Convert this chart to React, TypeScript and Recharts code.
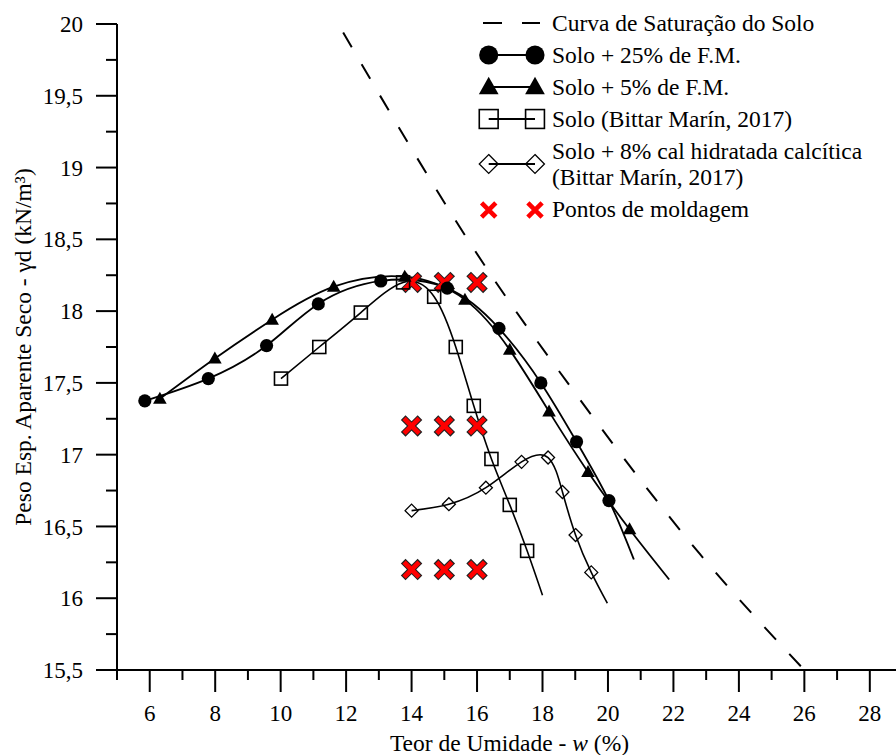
import React from 'react';
import { ComposedChart, Line, Scatter, XAxis, YAxis, Legend, Label } from 'recharts';

const FONT = '"Liberation Serif", "Times New Roman", serif';

// curva de saturação (tracejada)
const satW = [11.91, 16.49, 18.93, 22.8, 26];
const satGd = [19.94, 18.23, 17.45, 16.31, 15.5];

// Solo + 25% de F.M.
const fm25W = [5.85, 7.79, 9.57, 11.15, 13.06, 15.09, 16.67, 17.95, 19.04, 20.03];
const fm25Gd = [17.375, 17.53, 17.76, 18.05, 18.21, 18.16, 17.88, 17.5, 17.09, 16.68];
const fm25End = [20.79, 16.27];

// Solo + 5% de F.M.
const fm5W = [6.31, 7.99, 9.74, 11.62, 13.79, 15.63, 17.0, 18.2, 19.39, 20.66];
const fm5Gd = [17.39, 17.67, 17.94, 18.17, 18.24, 18.08, 17.73, 17.3, 16.88, 16.48];
const fm5End = [21.87, 16.13];

// Solo (Bittar Marín, 2017)
const soloW = [10.01, 11.18, 12.45, 13.74, 14.69, 15.35, 15.9, 16.44, 17.0, 17.53];
const soloGd = [17.53, 17.75, 17.99, 18.2, 18.1, 17.75, 17.34, 16.97, 16.65, 16.33];
const soloEnd = [18.0, 16.02];

// Solo + 8% cal hidratada calcítica
const calW = [14.0, 15.14, 16.27, 17.36, 18.17, 18.61, 19.01, 19.49];
const calGd = [16.61, 16.655, 16.77, 16.95, 16.98, 16.74, 16.44, 16.18];
const calEnd = [19.98, 15.965];

// pontos de moldagem
const moldW = [14, 15, 16, 14, 15, 16, 14, 15, 16];
const moldGd = [18.2, 18.2, 18.2, 17.2, 17.2, 17.2, 16.2, 16.2, 16.2];

const xTicks = Array.from({ length: 24 }, (_, i) => 5 + i);
const yTicks = Array.from({ length: 19 }, (_, i) => 15.5 + i * 0.25);

const rows = (w: number[], gd: number[], end?: number[]) => {
  const r = w.map((x, i) => ({ x, y: gd[i], mark: true }));
  if (end) r.push({ x: end[0], y: end[1], mark: false });
  return r;
};

const satData = rows(satW, satGd);
const fm25Data = rows(fm25W, fm25Gd, fm25End);
const fm5Data = rows(fm5W, fm5Gd, fm5End);
const soloData = rows(soloW, soloGd, soloEnd);
const calData = rows(calW, calGd, calEnd);
const moldData = moldW.map((x, i) => ({ x, y: moldGd[i] }));

const fmt = (v: number) => String(v).replace('.', ',');

function Marker({ kind, cx, cy, s = 1 }: { kind: string; cx: number; cy: number; s?: number }) {
  if (kind === 'circle') return <circle cx={cx} cy={cy} r={6.6 * s} fill="#000" />;
  if (kind === 'triangle')
    return <polygon points={`${cx},${cy - 7 * s} ${cx + 6.8 * s},${cy + 5 * s} ${cx - 6.8 * s},${cy + 5 * s}`} fill="#000" />;
  if (kind === 'square')
    return <rect x={cx - 6.5 * s} y={cy - 6.5 * s} width={13 * s} height={13 * s} fill="none" stroke="#000" strokeWidth={1.6} />;
  if (kind === 'diamond')
    return (
      <polygon
        points={`${cx},${cy - 6.5 * s} ${cx + 6.5 * s},${cy} ${cx},${cy + 6.5 * s} ${cx - 6.5 * s},${cy}`}
        fill="none"
        stroke="#000"
        strokeWidth={1.3}
      />
    );
  return null;
}

function XMark({ cx, cy, outline = true, s = 1 }: { cx: number; cy: number; outline?: boolean; s?: number }) {
  const a = 7.5 * s;
  const b = 8.4 * s;
  const d = (h: number) => `M${cx - h},${cy - h}L${cx + h},${cy + h}M${cx + h},${cy - h}L${cx - h},${cy + h}`;
  return (
    <g>
      {outline && <path d={d(b)} stroke="#222" strokeWidth={6.6} fill="none" />}
      <path d={d(a)} stroke="#f00" strokeWidth={4.6} fill="none" />
    </g>
  );
}

const dotFor = (kind: string) => (p: any) => {
  const { cx, cy, payload, index } = p;
  if (!payload || !payload.mark) return <g key={`d${index}`} />;
  return <Marker key={`d${index}`} kind={kind} cx={cx} cy={cy} />;
};

const X_SIZE = 22;
const X_MARGIN = 13;
const Y_SIZE = 21;
const Y_MARGIN = 13;

function XTick(props: any) {
  const { x, y, payload } = props;
  const v = payload.value;
  const major = v % 2 === 0;
  const axisY = y - X_SIZE - X_MARGIN;
  return (
    <g>
      <line x1={x} x2={x} y1={axisY} y2={axisY + (major ? 22 : 10)} stroke="#000" strokeWidth={2} />
      {major && (
        <text x={x} y={y} dy="0.71em" textAnchor="middle" fontFamily={FONT} fontSize={23} fill="#000">
          {v}
        </text>
      )}
    </g>
  );
}

function YTick(props: any) {
  const { x, y, payload } = props;
  const v = payload.value;
  const major = Math.abs(v * 2 - Math.round(v * 2)) < 1e-6;
  const axisX = x + Y_SIZE + Y_MARGIN;
  return (
    <g>
      <line x1={axisX - (major ? 21 : 11)} x2={axisX} y1={y} y2={y} stroke="#000" strokeWidth={2} />
      {major && (
        <text x={x} y={y} dy="0.355em" textAnchor="end" fontFamily={FONT} fontSize={23} fill="#000">
          {fmt(v)}
        </text>
      )}
    </g>
  );
}

const legendItems = [
  { kind: 'dash', text: ['Curva de Saturação do Solo'] },
  { kind: 'circle', text: ['Solo + 25% de F.M.'] },
  { kind: 'triangle', text: ['Solo + 5% de F.M.'] },
  { kind: 'square', text: ['Solo (Bittar Marín, 2017)'] },
  { kind: 'diamond', text: ['Solo + 8% cal hidratada calcítica', '(Bittar Marín, 2017)'] },
  { kind: 'x', text: ['Pontos de moldagem'] },
];

function LegendSymbol({ kind }: { kind: string }) {
  const h = 32;
  const c = h / 2;
  const l = 10.7;
  const r = 57;
  let body: React.ReactNode;
  if (kind === 'dash') {
    body = (
      <g stroke="#000" strokeWidth={2}>
        <line x1={5} x2={24} y1={c} y2={c} />
        <line x1={44} x2={62} y1={c} y2={c} />
      </g>
    );
  } else if (kind === 'x') {
    body = (
      <g>
        <XMark cx={l} cy={c} outline={false} s={0.95} />
        <XMark cx={r} cy={c} outline={false} s={0.95} />
      </g>
    );
  } else {
    body = (
      <g>
        <line x1={l} x2={r} y1={c} y2={c} stroke="#000" strokeWidth={1.8} />
        <Marker kind={kind} cx={l} cy={c} s={1.45} />
        <Marker kind={kind} cx={r} cy={c} s={1.45} />
      </g>
    );
  }
  return (
    <svg width={66} height={h} style={{ flex: 'none', overflow: 'visible' }}>
      {body}
    </svg>
  );
}

function renderLegend() {
  return (
    <div style={{ fontFamily: FONT, fontSize: 23.5, color: '#000' }}>
      {legendItems.map((it) => (
        <div key={it.kind} style={{ display: 'flex', alignItems: 'center', height: it.text.length > 1 ? 58.7 : 32 }}>
          <LegendSymbol kind={it.kind} />
          <div style={{ marginLeft: 8, lineHeight: '26.7px', whiteSpace: 'nowrap' }}>
            {it.text.map((t) => (
              <div key={t}>{t}</div>
            ))}
          </div>
        </div>
      ))}
    </div>
  );
}

export default function App() {
  return (
    <div style={{ position: 'absolute', left: 0, top: 0, width: 896, height: 755, background: '#fff' }}>
      <ComposedChart width={896} height={755} margin={{ top: 24, right: 0, bottom: 0, left: 0 }}>
        <XAxis
          type="number"
          dataKey="x"
          domain={[5, 28.8]}
          allowDataOverflow
          ticks={xTicks}
          interval={0}
          height={85}
          tickSize={X_SIZE}
          tickMargin={X_MARGIN}
          tickLine={false}
          axisLine={{ stroke: '#000', strokeWidth: 2 }}
          tick={<XTick />}
        >
          <Label
            content={(p: any) => {
              const vb = p.viewBox || { x: 117, width: 779 };
              return (
                <text x={vb.x + vb.width / 2 + 3} y={751} textAnchor="middle" fontFamily={FONT} fontSize={23.5} fill="#000">
                  Teor de Umidade - <tspan fontStyle="italic">w</tspan> (%)
                </text>
              );
            }}
          />
        </XAxis>
        <YAxis
          type="number"
          dataKey="y"
          domain={[15.5, 20]}
          allowDataOverflow
          ticks={yTicks}
          interval={0}
          width={117}
          tickSize={Y_SIZE}
          tickMargin={Y_MARGIN}
          tickLine={false}
          axisLine={{ stroke: '#000', strokeWidth: 2 }}
          tick={<YTick />}
        >
          <Label
            content={(p: any) => {
              const vb = p.viewBox || { y: 24, height: 646 };
              const cy = vb.y + vb.height / 2;
              return (
                <text
                  x={23}
                  y={cy}
                  transform={`rotate(-90, 23, ${cy})`}
                  textAnchor="middle"
                  dominantBaseline="central"
                  fontFamily={FONT}
                  fontSize={23.5}
                  fill="#000"
                >
                  Peso Esp. Aparente Seco - γd (kN/m³)
                </text>
              );
            }}
          />
        </YAxis>
        <Legend
          layout="vertical"
          align="center"
          verticalAlign="middle"
          wrapperStyle={{ left: 478, top: 7, width: 'auto' }}
          content={renderLegend}
        />
        <Line
          data={satData}
          dataKey="y"
          type="monotone"
          stroke="#000"
          strokeWidth={2}
          strokeDasharray="17 19.5"
          dot={false}
          activeDot={false}
          isAnimationActive={false}
        />
        <Line data={fm25Data} dataKey="y" type="natural" stroke="#000" strokeWidth={1.8} dot={dotFor('circle')} activeDot={false} isAnimationActive={false} />
        <Line data={fm5Data} dataKey="y" type="natural" stroke="#000" strokeWidth={1.8} dot={dotFor('triangle')} activeDot={false} isAnimationActive={false} />
        <Line data={soloData} dataKey="y" type="natural" stroke="#000" strokeWidth={1.6} dot={dotFor('square')} activeDot={false} isAnimationActive={false} />
        <Line data={calData} dataKey="y" type="natural" stroke="#000" strokeWidth={1.6} dot={dotFor('diamond')} activeDot={false} isAnimationActive={false} />
        <Scatter
          data={moldData}
          dataKey="y"
          isAnimationActive={false}
          shape={(p: any) => <XMark cx={p.cx} cy={p.cy} />}
        />
      </ComposedChart>
    </div>
  );
}
